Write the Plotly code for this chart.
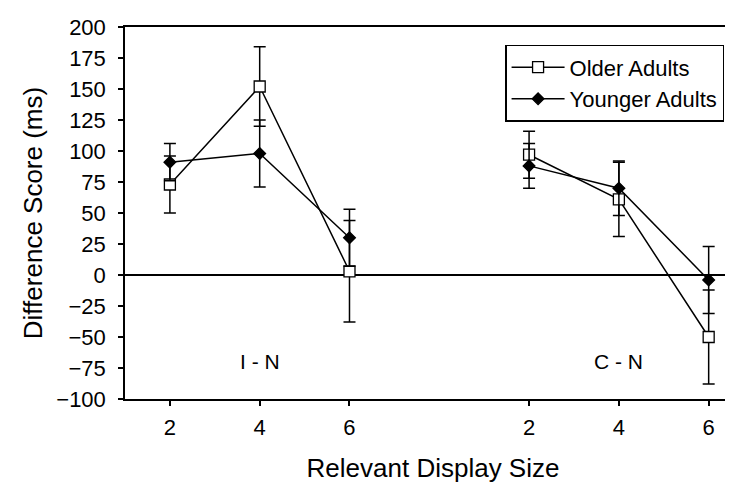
import plotly.graph_objects as go

# Data
positions = [0, 1, 2, 4, 5, 6]          # category slots (slot 3 left blank)
tick_labels = ["2", "4", "6", "2", "4", "6"]
older_vals = [73, 152, 3, 97, 61, -50]
older_err = [23, 32, 41, 19, 30, 38]
younger_vals = [91, 98, 30, 88, 70, -4]
younger_err = [15, 27, 23, 18, 22, 27]
group_labels = ["I - N", "C - N"]
group_label_pos = [1, 5]
group_label_y = -70

FONT = "Liberation Sans, Arial, sans-serif"

fig = go.Figure()

def add_series(name, vals, errs, symbol, fill, size):
    for seg in (slice(0, 3), slice(3, 6)):
        fig.add_trace(go.Scatter(
            x=positions[seg], y=vals[seg],
            mode="lines+markers",
            name=name,
            legendgroup=name,
            showlegend=(seg.start == 0),
            line=dict(color="black", width=1.5),
            marker=dict(symbol=symbol, size=size, color=fill,
                        line=dict(color="black", width=1.3)),
            error_y=dict(type="data", array=errs[seg], visible=True,
                         color="black", thickness=1.5, width=6),
        ))

add_series("Older Adults", older_vals, older_err, "square", "white", 11)
add_series("Younger Adults", younger_vals, younger_err, "diamond", "black", 9)

for txt, xp in zip(group_labels, group_label_pos):
    fig.add_annotation(x=xp, y=group_label_y, text=txt, showarrow=False,
                       font=dict(family=FONT, size=21, color="black"))

fig.update_layout(
    template="none",
    width=733, height=491,
    margin=dict(l=117, r=0, t=19, b=100, autoexpand=False),
    paper_bgcolor="white", plot_bgcolor="white",
    font=dict(family=FONT, color="black"),
    legend=dict(
        x=0.617, y=0.952, xanchor="left", yanchor="top",
        bgcolor="white", bordercolor="black", borderwidth=1.5,
        font=dict(family=FONT, size=22, color="black"),
        itemwidth=53, tracegroupgap=0,
    ),
)

fig.update_xaxes(
    automargin=False,
    range=[-0.5, 6.36],
    tickmode="array", tickvals=positions, ticktext=tick_labels,
    ticks="outside", ticklen=5, tickwidth=1.5, tickcolor="black",
    showline=True, linecolor="black", linewidth=1.5, mirror=True,
    showgrid=False, zeroline=False,
    tickfont=dict(family=FONT, size=22),
    ticklabelstandoff=3,
    title=dict(text="Relevant Display Size", font=dict(family=FONT, size=26), standoff=20),
)
fig.update_yaxes(
    automargin=False,
    range=[-100, 200],
    tickmode="array", tickvals=list(range(-100, 201, 25)),
    ticks="outside", ticklen=5, tickwidth=1.5, tickcolor="black",
    showline=True, linecolor="black", linewidth=1.5,
    showgrid=False, zeroline=True, zerolinecolor="black", zerolinewidth=1.5,
    tickfont=dict(family=FONT, size=22),
    ticklabelstandoff=8,
    title=dict(text="Difference Score (ms)", font=dict(family=FONT, size=26), standoff=6),
)

fig.write_html("out.html")
